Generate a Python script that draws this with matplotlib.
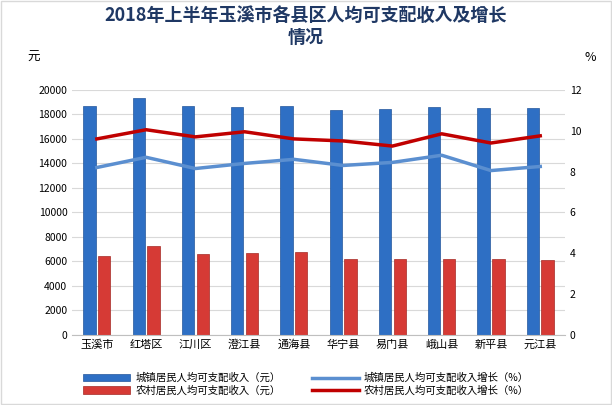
import matplotlib.pyplot as plt
import numpy as np

plt.rcParams['font.family'] = ['Noto Sans CJK SC', 'Noto Sans CJK JP', 'Noto Sans CJK TC', 'DejaVu Sans']

counties = ['玉溪市', '红塔区', '江川区', '澄江县', '通海县', '华宁县', '易门县', '峨山县', '新平县', '元江县']
urban_income = [18700, 19300, 18700, 18600, 18700, 18350, 18450, 18600, 18500, 18500]
rural_income = [6450, 7250, 6600, 6700, 6750, 6200, 6200, 6200, 6200, 6100]
urban_growth = [8.2, 8.7, 8.15, 8.4, 8.6, 8.3, 8.45, 8.8, 8.05, 8.25]
rural_growth = [9.6, 10.05, 9.7, 9.95, 9.6, 9.5, 9.25, 9.85, 9.4, 9.75]

fig = plt.figure(figsize=(6.12, 4.05), dpi=100)
fig.patches.append(plt.Rectangle((0.002, 0.002), 0.996, 0.996, transform=fig.transFigure,
                                 fill=False, edgecolor='#d9d9d9', linewidth=1))
ax = fig.add_axes([0.118, 0.173, 0.805, 0.605])
x = np.arange(len(counties))
w = 0.25
ax.bar(x - 0.15, urban_income, w, color='#2e6fc4', edgecolor='#24579c', linewidth=0.5,
       label='城镇居民人均可支配收入（元）', zorder=2)
ax.bar(x + 0.15, rural_income, w, color='#d63a35', edgecolor='#a52a26', linewidth=0.5,
       label='农村居民人均可支配收入（元）', zorder=2)
ax.set_ylim(0, 20000)
ax.set_yticks(range(0, 20001, 2000))
ax.set_xlim(-0.5, len(counties) - 0.5)
ax.set_xticks(x)
ax.set_xticklabels(counties, fontsize=8)
ax.tick_params(axis='y', labelsize=7.5, length=0)
ax.tick_params(axis='x', length=0)
ax.grid(axis='y', color='#d9d9d9', linewidth=0.8, zorder=0)
for s in ['top', 'right', 'left']:
    ax.spines[s].set_visible(False)
ax.spines['bottom'].set_color('#bfbfbf')

ax2 = ax.twinx()
ax2.plot(x, urban_growth, color='#5b8fd0', linewidth=2.5, label='城镇居民人均可支配收入增长（%）')
ax2.plot(x, rural_growth, color='#c00000', linewidth=2.5, label='农村居民人均可支配收入增长（%）')
ax2.set_ylim(0, 12)
ax2.set_yticks(range(0, 13, 2))
ax2.tick_params(axis='y', labelsize=7.5, length=0)
for s in ['top', 'right', 'left', 'bottom']:
    ax2.spines[s].set_visible(False)

fig.text(0.045, 0.85, '元', fontsize=9)
fig.text(0.955, 0.85, '%', fontsize=9)
fig.suptitle('2018年上半年玉溪市各县区人均可支配收入及增长\n情况', y=0.985, fontsize=13,
             fontweight='bold', color='#1f3864', linespacing=1.2)

h1, l1 = ax.get_legend_handles_labels()
h2, l2 = ax2.get_legend_handles_labels()
fig.legend(h1 + h2, l1 + l2, loc='lower center', bbox_to_anchor=(0.5, 0.0), ncol=2,
           fontsize=7.5, frameon=False, columnspacing=3, handlelength=4.5,
           handletextpad=0.5, labelspacing=0.2)
fig.savefig('out.png', dpi=100)
